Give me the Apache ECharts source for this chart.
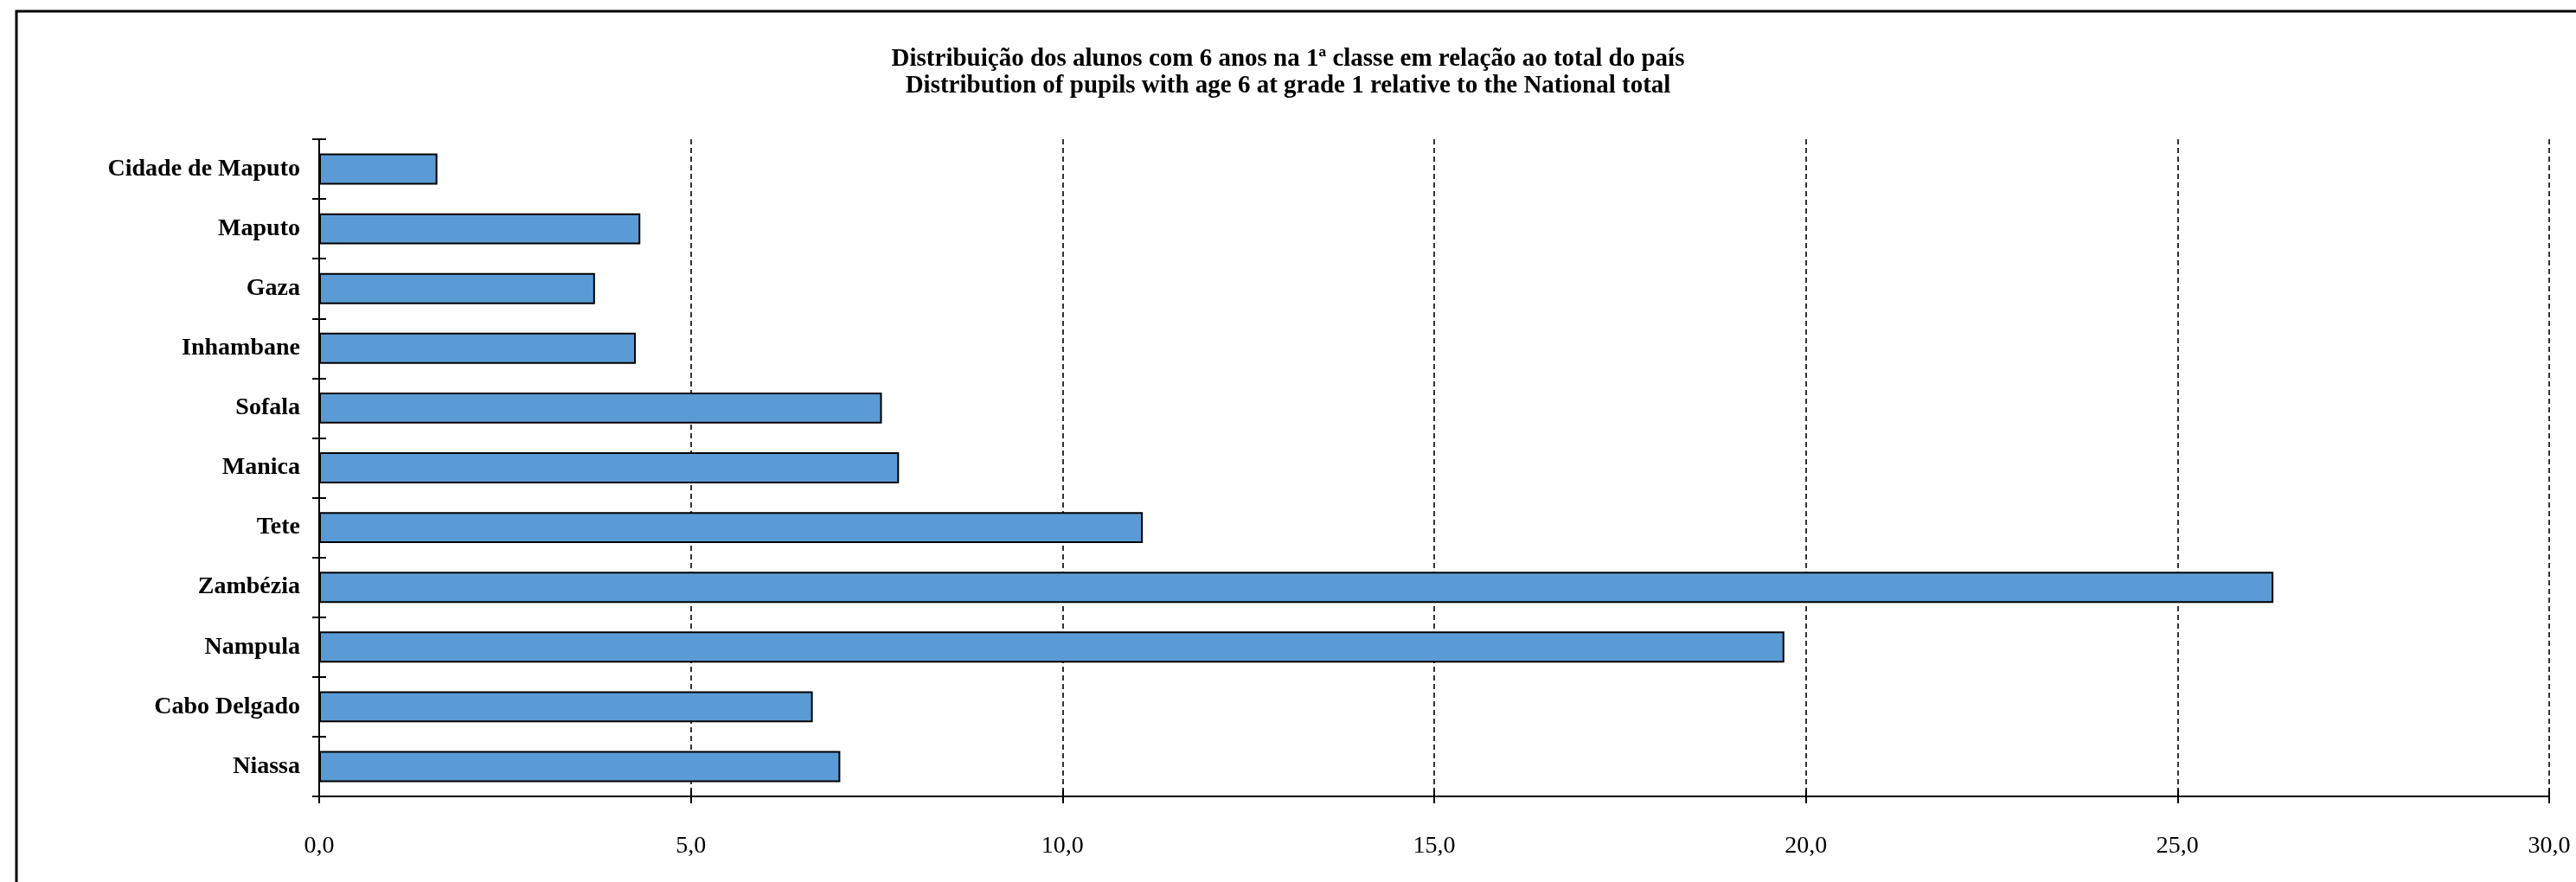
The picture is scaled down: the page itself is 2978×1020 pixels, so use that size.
<!DOCTYPE html>
<html><head><meta charset="utf-8">
<script src="https://cdn.jsdelivr.net/npm/echarts@6/dist/echarts.min.js"></script>
<style>html,body{margin:0;padding:0;background:#fff}#c{width:2978px;height:1020px}</style>
</head><body><div id="c"></div>
<script>
const titleLines = ["Distribuição dos alunos com 6 anos na 1ª classe em relação ao total do país", "Distribution of pupils with age 6 at grade 1 relative to the National total"];
const provinces = ["Cidade de Maputo","Maputo","Gaza","Inhambane","Sofala","Manica","Tete","Zambézia","Nampula","Cabo Delgado","Niassa"];
const shares = [1.59, 4.32, 3.71, 4.26, 7.57, 7.80, 11.08, 26.29, 19.71, 6.64, 7.01];
const xMin = 0, xMax = 30, xStep = 5;

const serif = "'Liberation Serif', 'DejaVu Serif', serif";
const chart = echarts.init(document.getElementById('c'), null, {renderer:'canvas'});
const fmt = v => v.toFixed(1).replace('.', ',');
chart.setOption({
  animation:false,
  backgroundColor:'#fff',
  title:{text:titleLines.join('\n'), left:'center', top:48,
    textStyle:{fontFamily:serif, fontWeight:'bold', fontSize:29, color:'#000', lineHeight:31}},
  grid:{left:369, right:31, top:161, bottom:99, containLabel:false},
  xAxis:[{type:'value', min:xMin, max:xMax, interval:xStep, position:'bottom',
    axisLine:{show:true, lineStyle:{color:'#000', width:2}},
    axisTick:{show:true, length:8, lineStyle:{color:'#000', width:2}},
    axisLabel:{formatter:fmt, fontFamily:serif, fontSize:28, color:'#000', margin:44},
    splitLine:{show:true, lineStyle:{color:'#000', width:1.6, type:[6,4]}}},
   {type:'value', min:xMin, max:xMax, interval:xStep, position:'bottom', offset:0,
    axisLine:{show:false}, axisLabel:{show:false}, splitLine:{show:false},
    axisTick:{show:true, inside:true, length:8, lineStyle:{color:'#000', width:2}}}],
  yAxis:[{type:'category', data:provinces, inverse:true,
    axisLine:{show:true, lineStyle:{color:'#000', width:2}},
    axisTick:{show:true, length:8, lineStyle:{color:'#000', width:2}},
    axisLabel:{fontFamily:serif, fontWeight:'bold', fontSize:28, color:'#000', margin:22},
    splitLine:{show:false}},
   {type:'category', data:provinces, inverse:true, position:'left', offset:0,
    axisLine:{show:false}, axisLabel:{show:false}, splitLine:{show:false},
    axisTick:{show:true, inside:true, length:8, lineStyle:{color:'#000', width:2}}}],
  graphic:[{type:'rect', shape:{x:19, y:13, width:3000, height:1100}, silent:true, z:-10,
    style:{fill:null, stroke:'#000', lineWidth:3}}],
  series:[{type:'bar', data:shares, xAxisIndex:0, yAxisIndex:0, barCategoryGap:'48%',
    itemStyle:{color:'#5B9BD5', borderColor:'#000', borderWidth:2}}]
});
</script></body></html>
